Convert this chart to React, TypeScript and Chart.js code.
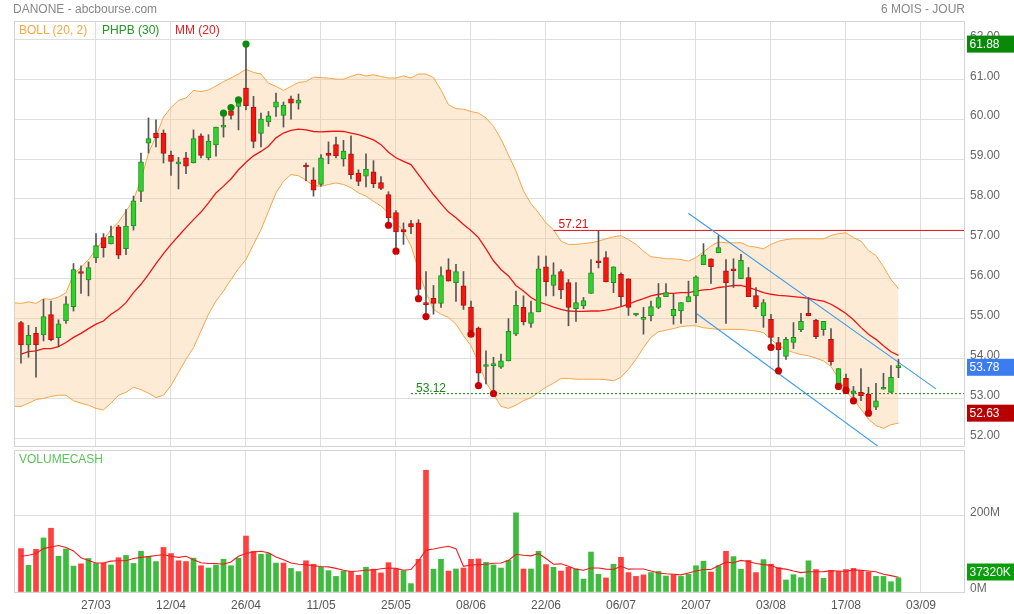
import React, { useEffect, useRef } from "react";
import { Chart, registerables } from "chart.js";

Chart.register(...registerables);

const FONT = '"Liberation Sans", Arial, Helvetica, sans-serif';

// ---- axes ----
const X_MIN = -0.933;
const X_MAX = 125.87;
const dateTicks = [10, 20, 30, 40, 50, 60, 70, 80, 90, 100, 110, 120];
const dateLabels = ["27/03", "12/04", "26/04", "11/05", "25/05", "08/06", "22/06", "06/07", "20/07", "03/08", "17/08", "03/09"];
const priceTicks = [52, 53, 54, 55, 56, 57, 58, 59, 60, 61, 62];
const PRICE_MIN = 51.807;
const PRICE_MAX = 62.459;
const volumeTicks = [0, 200];
const VOL_MAX = 373;

// ---- daily candles (index 0 = first session) ----
const opens = [54.90,54.34,54.63,54.59,55.10,54.52,54.94,55.30,56.17,55.97, 56.52,57.03,56.87,57.30,56.75,57.32,58.19,59.40,59.65,59.65, 59.10,58.88,59.03,58.90,59.58,59.03,59.35,59.80,60.21,60.32, 60.78,60.30,59.64,59.93,60.30,60.09,60.51,60.40,58.82,58.48, 58.36,59.15,59.36,59.00,59.13,58.65,58.57,58.68,58.41,58.11, 57.66,57.23,57.38,57.40,55.40,55.51,55.38,56.22,55.90,55.82, 55.29,54.76,53.80,53.82,53.78,53.94,54.61,55.28,54.88,55.17, 56.30,55.83,56.18,55.90,55.25,55.32,55.63,56.44,56.53,55.90, 56.11,56.00,55.09,54.98,55.07,55.28,55.55,55.07,55.19,55.42, 55.57,56.35,56.50,56.65,56.20,56.23,56.00,56.03,55.58,55.07, 54.98,54.40,54.05,54.40,54.72,55.13,54.96,54.72,54.48,53.36, 53.50,53.13,53.15,53.11,52.78,53.23,53.15,53.77];
const highs = [54.93,54.83,54.78,55.48,55.44,54.97,55.55,56.38,56.32,56.42, 57.13,57.13,57.32,57.34,57.73,58.07,59.15,60.03,59.98,59.73, 59.20,59.04,59.17,59.73,59.63,59.61,59.80,60.15,60.29,60.48, 61.88,60.57,60.15,60.19,60.65,60.43,60.58,60.63,58.90,58.78, 59.11,59.43,59.55,59.47,59.58,58.73,59.13,58.96,58.56,58.18, 57.71,57.40,57.46,57.48,56.18,55.83,56.30,56.50,56.36,56.18, 55.44,54.79,54.19,54.03,54.11,55.00,55.69,55.57,55.44,56.57, 56.57,56.40,56.23,55.98,55.90,55.53,56.48,57.21,56.68,56.30, 56.15,56.00,55.13,55.28,55.44,55.88,55.88,55.61,55.40,55.94, 56.07,56.88,56.50,57.08,56.48,56.50,56.61,56.28,55.78,55.48, 55.11,54.53,54.53,54.90,55.13,55.53,54.98,54.93,54.75,53.75, 53.61,53.30,53.75,53.28,53.38,53.63,53.82,53.98];
const lows = [53.88,54.03,53.53,54.44,54.44,54.30,54.88,55.19,55.63,55.57, 56.40,56.54,56.87,56.50,56.60,57.22,57.93,59.15,59.30,58.90, 58.59,58.25,58.63,58.90,59.03,58.98,59.07,59.55,60.00,59.73, 60.23,59.28,59.30,59.82,60.07,59.80,60.00,60.25,58.45,58.07, 58.32,58.88,59.03,58.82,58.50,58.33,58.30,58.28,58.23,57.34, 56.69,56.86,57.13,55.50,55.05,55.11,55.28,55.94,55.43,55.23, 54.61,53.32,53.36,53.12,53.75,53.94,54.57,54.84,54.78,55.17, 55.57,55.57,55.50,54.82,54.93,55.25,55.63,56.27,55.92,55.65, 55.32,55.08,55.07,54.61,54.94,55.25,55.55,54.86,54.88,55.42, 54.90,56.35,55.88,56.65,54.88,55.78,56.00,55.55,55.25,54.78, 54.28,53.69,53.98,54.25,54.67,55.07,54.50,54.58,53.83,53.30, 53.20,52.94,52.94,52.63,52.72,53.23,53.15,53.52];
const closes = [54.34,54.58,54.34,55.05,54.47,54.87,55.37,56.23,56.13,56.28, 56.83,56.78,57.06,56.59,57.32,57.95,58.93,59.51,59.53,59.14, 58.94,58.93,58.82,59.51,59.09,59.45,59.80,59.85,60.09,60.47, 60.34,59.44,60.00,60.08,60.43,60.35,60.40,60.48,58.80,58.22, 59.03,59.09,59.08,59.20,58.61,58.44,58.75,58.38,58.26,57.53, 57.17,57.17,57.30,55.73,55.35,55.38,56.08,55.94,56.18,55.33, 54.69,53.63,53.83,53.86,53.94,54.68,55.33,54.92,55.15,56.25, 55.92,56.10,55.72,55.28,55.40,55.45,56.15,56.40,55.92,56.30, 55.55,55.28,55.11,55.03,55.30,55.53,55.65,55.23,55.40,55.55, 56.05,56.60,56.30,56.78,55.90,56.20,56.46,55.55,55.30,55.40, 54.53,54.22,54.48,54.53,54.93,55.07,54.55,54.93,53.92,53.75, 53.22,53.19,53.07,52.65,52.94,53.27,53.53,53.78];

// ---- indicators ----
const BAND_START = -1; // bands begin one session before the first candle
const bollUpper = [55.40, 55.38,55.42,55.38,55.50,55.48,55.54,55.65,56.11,56.28,56.48, 56.73,56.98,57.23,57.42,57.69,57.98,58.48,59.15,59.57,60.05, 60.29,60.47,60.53,60.72,60.69,60.73,60.83,60.94,61.03,61.13, 61.25,61.17,61.13,60.90,60.82,60.72,60.82,60.92,60.94,61.05, 61.04,61.03,61.00,61.00,61.07,61.13,61.08,61.11,61.07,61.03, 61.03,61.08,61.03,61.13,61.13,61.04,60.73,60.36,60.26,60.25, 60.19,60.15,60.03,59.82,59.50,59.10,58.70,58.20,57.88,57.65, 57.40,57.23,56.94,56.86,56.86,56.88,56.90,56.94,57.00,57.05, 57.08,56.98,56.86,56.69,56.55,56.53,56.50,56.50,56.48,56.44, 56.53,56.67,56.82,56.92,56.90,56.90,56.90,56.82,56.79,56.75, 56.86,56.94,56.98,57.00,57.00,57.00,57.00,57.00,57.08,57.13, 57.15,57.03,56.94,56.71,56.58,56.30,55.98,55.75];
const bollLower = [52.80, 52.80,52.88,52.97,53.00,53.05,53.08,53.08,52.94,52.88,52.83, 52.75,52.71,52.88,53.08,53.15,53.28,53.22,53.13,53.02,53.08, 53.32,53.65,53.98,54.27,54.69,55.11,55.44,55.69,55.98,56.25, 56.48,56.86,57.23,57.69,58.15,58.44,58.61,58.58,58.47,58.33, 58.32,58.36,58.40,58.36,58.28,58.15,58.07,57.94,57.82,57.65, 57.40,57.19,56.82,56.23,55.65,55.23,55.11,55.03,54.86,54.57, 54.32,53.90,53.40,53.10,52.80,52.75,52.83,52.94,53.02,53.15, 53.28,53.38,53.50,53.50,53.48,53.48,53.48,53.48,53.47,53.44, 53.53,53.73,53.98,54.27,54.53,54.67,54.71,54.75,54.80,54.82, 54.82,54.77,54.75,54.73,54.73,54.73,54.73,54.71,54.69,54.65, 54.48,54.32,54.22,54.15,54.10,54.07,54.01,53.94,53.80,53.50, 53.17,52.98,52.73,52.48,52.32,52.25,52.34,52.38];
const ma20 = [54.11,54.17,54.19,54.25,54.25,54.30,54.40,54.53,54.63,54.75, 54.86,54.94,55.11,55.23,55.40,55.65,55.86,56.11,56.38,56.63, 56.86,57.07,57.28,57.48,57.67,57.90,58.15,58.32,58.50,58.73, 58.92,59.08,59.19,59.32,59.53,59.65,59.72,59.75,59.73,59.69, 59.68,59.69,59.70,59.69,59.65,59.61,59.55,59.48,59.36,59.17, 59.03,58.94,58.86,58.61,58.36,58.11,57.88,57.67,57.53,57.36, 57.21,57.03,56.75,56.45,56.23,56.07,55.83,55.69,55.53,55.42, 55.36,55.29,55.23,55.19,55.18,55.18,55.19,55.19,55.21,55.25, 55.30,55.36,55.44,55.50,55.57,55.61,55.63,55.63,55.65,55.65, 55.69,55.72,55.73,55.78,55.80,55.83,55.83,55.78,55.72,55.65, 55.61,55.58,55.57,55.55,55.53,55.51,55.47,55.44,55.36,55.25, 55.13,54.97,54.78,54.61,54.48,54.32,54.17,54.08];

// PHPB (30) markers
const newHighIdx = [27, 28, 29, 30];
const newLowIdx = [49, 50, 53, 54, 60, 61, 63, 100, 101, 109, 110, 111, 113];

// drawn lines
const resistanceLevel = 57.21;
const resistanceFrom = 71;
const supportLevel = 53.12;
const supportFrom = 52;
const channelUpX = [88.97, 122];
const channelUpY = [57.64, 53.24];
const channelLowX = [90.1, 115];
const channelLowY = [55.12, 51.7];

// right-axis badges
const periodHigh = 61.88;
const lastPrice = 53.78;
const periodLow = 52.63;
const lastVolume = 37.32; // M
const lastVolumeLabel = "37320K";

// ---- volume (millions) ----
const volumes = [114,70,112,142,167.5,94,113,68,74,88, 75,76,71,90,96,75,107,94,80,117, 101,82,80,89,69,63,71,86,69,89, 147,107,99,101,76,76,62,53.5,82,73, 65,56,41,55,54,44,65,60,50,77, 60.5,56,22,86,320,60,86,55,60.5,63, 86,87,78,71,63,83,208,60.5,60.5,107, 72,65,55,65,60.5,34,105,46.5,37,73, 91,51,41,45,51,54,42,45.6,41,46.5, 69,81,52.6,69,107,93,60,83,51,85, 73,64,31.6,45.6,37.7,82,59,36,57,54, 59,62,57,52.6,41,41,27,37.32];
const volumeDir = "rgrgrgggrg" + "grgrgggggr" + "rrrgrggggg" + "rrgggrggrr" + "ggggrrgrrr" + "rggrrggrgr" + "rrgggggrgg" + "rgrrggggrg" + "rrrrgggrgg" + "ggrgrggrrg" + "rrggggrgrr" + "rrrrgggg";
const volumeMa = [94,96.5,101,114,118,122,117,108,90,83, 76,76,81,82,82,88,91,93,96,98, 94,91,94,85,77,75,75,73,79,94, 101,105,107,103,92,85,76,73,72,69, 67,66,62,57,54,55,57,58,61,63, 62,57,59,82,110,113,117,120,114,67.5, 71,72,73,75.5,76,83,99,96.5,95,101, 88,73,74,67.5,60,57,63,63,60,59, 67.5,60,60.5,60.5,55,50,48,46.5,45,50, 55,59,59,69,78,77,83,80,75,72, 70,62,60,55,51,53,53,53.5,56,55, 54,58,57,55,53,46.5,43,38.6];

// ---- colours ----
const GRID = "#dedede";
const FRAME = "#d4d4d4";
const UP_FILL = "#2fd12f";
const UP_EDGE = "#1f8f1f";
const DN_FILL = "#f5160e";
const DN_EDGE = "#b80d0d";

const W = 1014;
const H = 614;

Chart.defaults.font.family = FONT;

function xTicksHook(s: any) {
  s.ticks = dateTicks.map((v) => ({ value: v }));
}

const priceExtras = {
  id: "priceExtras",
  afterDraw(chart: any) {
    const { ctx, chartArea: a, scales } = chart;
    const xs = scales.x;
    const ys = scales.y;
    ctx.save();
    ctx.strokeStyle = FRAME;
    ctx.lineWidth = 1;
    ctx.strokeRect(a.left + 0.5, a.top + 0.5, a.right - a.left - 1, a.bottom - a.top);
    ctx.font = "12px " + FONT;
    ctx.textAlign = "left";
    ctx.textBaseline = "alphabetic";
    ctx.fillStyle = "#e01010";
    ctx.fillText(resistanceLevel.toFixed(2), xs.getPixelForValue(resistanceFrom) + 5, ys.getPixelForValue(resistanceLevel) - 2);
    ctx.fillStyle = "#1a8a1a";
    ctx.fillText(supportLevel.toFixed(2), xs.getPixelForValue(supportFrom) + 5, ys.getPixelForValue(supportLevel) - 2);
    const badge = (v: number, bg: string) => {
      const py = ys.getPixelForValue(v);
      ctx.fillStyle = bg;
      ctx.fillRect(a.right + 2, py - 8.5, W - a.right - 2, 17);
      ctx.fillStyle = "#ffffff";
      ctx.textBaseline = "middle";
      ctx.fillText(v.toFixed(2), a.right + 4.5, py + 0.5);
    };
    badge(periodHigh, "#088a08");
    badge(lastPrice, "#3b7cf0");
    badge(periodLow, "#b80000");
    ctx.restore();
  },
};

const volumeExtras = {
  id: "volumeExtras",
  afterDraw(chart: any) {
    const { ctx, chartArea: a, scales } = chart;
    const ys = scales.y;
    ctx.save();
    ctx.strokeStyle = FRAME;
    ctx.lineWidth = 1;
    ctx.strokeRect(a.left + 0.5, a.top + 0.5, a.right - a.left - 1, a.bottom - a.top);
    const py = Math.min(ys.getPixelForValue(lastVolume), a.bottom - 20);
    ctx.fillStyle = "#0a9e0a";
    ctx.fillRect(a.right + 2, py - 8.5, W - a.right - 2, 17);
    ctx.fillStyle = "#ffffff";
    ctx.font = "12px " + FONT;
    ctx.textAlign = "left";
    ctx.textBaseline = "middle";
    ctx.fillText(lastVolumeLabel, a.right + 4.5, py + 0.5);
    ctx.restore();
  },
};

export default function App() {
  const priceRef = useRef<HTMLCanvasElement | null>(null);
  const volRef = useRef<HTMLCanvasElement | null>(null);

  useEffect(() => {
    const idx = opens.map((_, i) => i);
    const wicks = idx.map((i) => ({ x: i, y: [lows[i], highs[i]] }));
    const bodies = idx.map((i) => ({ x: i, y: [Math.min(opens[i], closes[i]), Math.max(opens[i], closes[i])] }));
    const bodyFill = idx.map((i) => (closes[i] >= opens[i] ? UP_FILL : DN_FILL));
    const bodyEdge = idx.map((i) => (closes[i] >= opens[i] ? UP_EDGE : DN_EDGE));
    const upper = bollUpper.map((v, k) => ({ x: k + BAND_START, y: v }));
    const lower = bollLower.map((v, k) => ({ x: k + BAND_START, y: v }));
    const ma = ma20.map((v, i) => ({ x: i, y: v }));

    const priceChart = new Chart(priceRef.current as HTMLCanvasElement, {
      type: "bar",
      data: {
        datasets: [
          {
            type: "line",
            data: upper,
            borderColor: "#f6a54a",
            borderWidth: 1,
            pointRadius: 0,
            fill: "+1",
            backgroundColor: "rgba(250,200,140,0.36)",
            order: 10,
          } as any,
          {
            type: "line",
            data: lower,
            borderColor: "#f6a54a",
            borderWidth: 1,
            pointRadius: 0,
            fill: false,
            order: 9,
          } as any,
          {
            type: "line",
            data: ma,
            borderColor: "#ee1414",
            borderWidth: 1.3,
            pointRadius: 0,
            fill: false,
            order: 8,
          } as any,
          {
            type: "line",
            data: [
              { x: resistanceFrom, y: resistanceLevel },
              { x: X_MAX + 1, y: resistanceLevel },
            ],
            borderColor: "#e81010",
            borderWidth: 1,
            pointRadius: 0,
            order: 7,
          } as any,
          {
            type: "line",
            data: [
              { x: supportFrom, y: supportLevel },
              { x: X_MAX + 1, y: supportLevel },
            ],
            borderColor: "#1a7a1a",
            borderWidth: 1,
            borderDash: [2, 2],
            pointRadius: 0,
            order: 7,
          } as any,
          {
            type: "line",
            data: channelUpX.map((x, k) => ({ x, y: channelUpY[k] })),
            borderColor: "#3d9be9",
            borderWidth: 1.1,
            pointRadius: 0,
            order: 6,
          } as any,
          {
            type: "line",
            data: channelLowX.map((x, k) => ({ x, y: channelLowY[k] })),
            borderColor: "#3d9be9",
            borderWidth: 1.1,
            pointRadius: 0,
            order: 6,
          } as any,
          {
            type: "bar",
            data: wicks,
            backgroundColor: "#555555",
            borderWidth: 0,
            barThickness: 1,
            grouped: false,
            order: 4,
          } as any,
          {
            type: "bar",
            data: bodies,
            backgroundColor: bodyFill,
            borderColor: bodyEdge,
            borderWidth: 1,
            borderSkipped: false,
            barThickness: 5,
            minBarLength: 2,
            grouped: false,
            order: 3,
          } as any,
          {
            type: "line",
            data: newHighIdx.map((i) => ({ x: i, y: highs[i] })),
            showLine: false,
            pointRadius: 3.6,
            pointBackgroundColor: "#0f8a0f",
            pointBorderWidth: 0,
            order: 1,
          } as any,
          {
            type: "line",
            data: newLowIdx.map((i) => ({ x: i, y: lows[i] })),
            showLine: false,
            pointRadius: 3.6,
            pointBackgroundColor: "#d00000",
            pointBorderWidth: 0,
            order: 1,
          } as any,
        ],
      },
      options: {
        responsive: false,
        animation: false,
        events: [],
        layout: { padding: { left: 14, top: 21, right: 0, bottom: H - 446 } },
        plugins: { legend: { display: false }, tooltip: { enabled: false } },
        scales: {
          x: {
            type: "linear",
            min: X_MIN,
            max: X_MAX,
            offset: false,
            afterBuildTicks: xTicksHook,
            afterFit: (s: any) => {
              s.height = 0;
            },
            ticks: { display: false },
            grid: { color: GRID, drawTicks: false, offset: false },
            border: { display: false },
          },
          y: {
            type: "linear",
            position: "right",
            min: PRICE_MIN,
            max: PRICE_MAX,
            afterBuildTicks: (s: any) => {
              s.ticks = priceTicks.map((v) => ({ value: v }));
            },
            afterFit: (s: any) => {
              s.width = W - 965;
            },
            ticks: {
              callback: (v: any) => Number(v).toFixed(2),
              color: "#666666",
              padding: 5,
              labelOffset: -3,
              font: { size: 12, family: FONT },
            },
            grid: { color: GRID, drawTicks: false },
            border: { display: false },
          },
        },
      } as any,
      plugins: [priceExtras],
    });

    const volChart = new Chart(volRef.current as HTMLCanvasElement, {
      type: "bar",
      data: {
        datasets: [
          {
            type: "line",
            data: volumeMa.map((v, i) => ({ x: i, y: v })),
            borderColor: "#f01c1c",
            borderWidth: 1.1,
            pointRadius: 0,
            order: 1,
          } as any,
          {
            type: "bar",
            data: volumes.map((v, i) => ({ x: i, y: v })),
            backgroundColor: volumes.map((_, i) => (volumeDir[i] === "g" ? "#3fbb3f" : "#ff4040")),
            borderWidth: 0,
            barThickness: 5,
            grouped: false,
            order: 2,
          } as any,
        ],
      },
      options: {
        responsive: false,
        animation: false,
        events: [],
        layout: { padding: { left: 14, top: 450, right: 0, bottom: 0 } },
        plugins: { legend: { display: false }, tooltip: { enabled: false } },
        scales: {
          x: {
            type: "linear",
            min: X_MIN,
            max: X_MAX,
            offset: false,
            afterBuildTicks: xTicksHook,
            afterFit: (s: any) => {
              s.height = H - 592;
            },
            ticks: {
              autoSkip: false,
              maxRotation: 0,
              padding: 6,
              color: "#555555",
              font: { size: 12, family: FONT },
              callback: (_v: any, i: number) => dateLabels[i],
            },
            grid: { color: GRID, drawTicks: false, offset: false },
            border: { display: false },
          },
          y: {
            type: "linear",
            position: "right",
            min: 0,
            max: VOL_MAX,
            afterBuildTicks: (s: any) => {
              s.ticks = volumeTicks.map((v) => ({ value: v }));
            },
            afterFit: (s: any) => {
              s.width = W - 965;
            },
            ticks: {
              callback: (v: any) => v + "M",
              color: "#666666",
              padding: 5,
              labelOffset: -3,
              font: { size: 12, family: FONT },
            },
            grid: { color: GRID, drawTicks: false },
            border: { display: false },
          },
        },
      } as any,
      plugins: [volumeExtras],
    });

    return () => {
      priceChart.destroy();
      volChart.destroy();
    };
  }, []);

  const txt = (extra: React.CSSProperties): React.CSSProperties => ({
    position: "absolute",
    fontFamily: FONT,
    fontSize: 12,
    lineHeight: "14px",
    whiteSpace: "nowrap",
    ...extra,
  });

  return (
    <div style={{ position: "absolute", left: 0, top: 0, width: W, height: H, background: "#ffffff", overflow: "hidden" }}>
      <canvas ref={priceRef} width={W} height={H} style={{ position: "absolute", left: 0, top: 0 }} />
      <canvas ref={volRef} width={W} height={H} style={{ position: "absolute", left: 0, top: 0 }} />
      <div style={txt({ left: 13, top: 2, color: "#888888" })}>DANONE - abcbourse.com</div>
      <div style={txt({ right: W - 965, top: 2, color: "#888888" })}>6 MOIS - JOUR</div>
      <div style={txt({ left: 19, top: 23, color: "#f7a843" })}>BOLL (20, 2)</div>
      <div style={txt({ left: 102, top: 23, color: "#1f991f" })}>PHPB (30)</div>
      <div style={txt({ left: 175, top: 23, color: "#ea1b1b" })}>MM (20)</div>
      <div style={txt({ left: 19, top: 452, color: "#5cc25c" })}>VOLUMECASH</div>
    </div>
  );
}
